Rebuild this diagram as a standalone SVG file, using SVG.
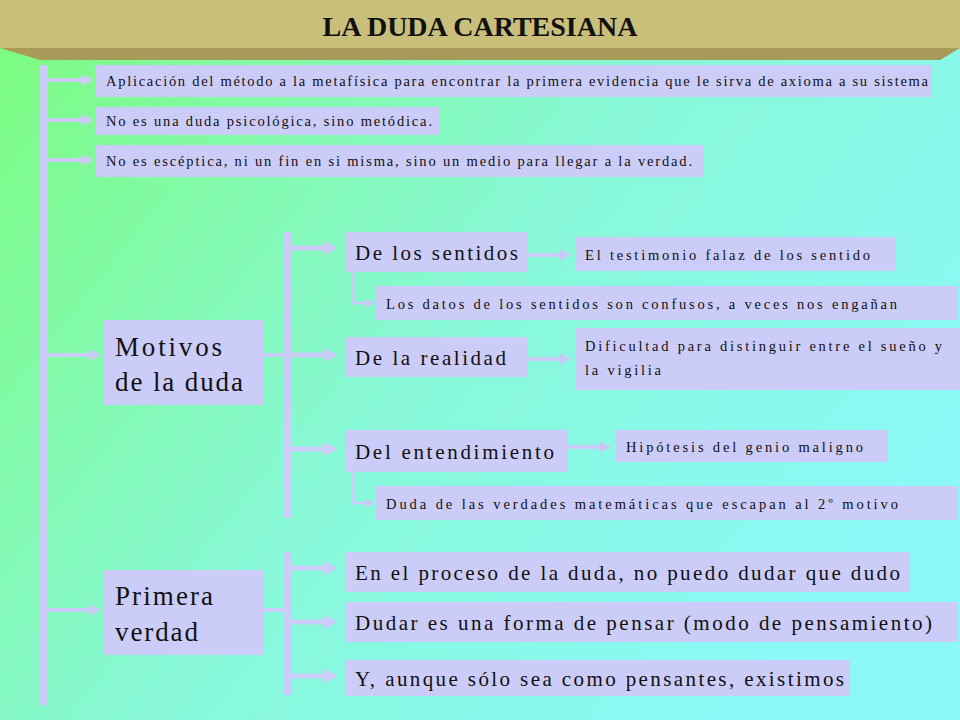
<svg xmlns="http://www.w3.org/2000/svg" width="960" height="720" viewBox="0 0 960 720">
<defs>
<linearGradient id="bg" x1="0" y1="0" x2="1" y2="0.6">
<stop offset="0" stop-color="#7cfc7c"/><stop offset="0.55" stop-color="#88f8d8"/><stop offset="1" stop-color="#8cf8f8"/>
</linearGradient>
<marker id="ah" viewBox="0 0 10 10" refX="9" refY="5" markerWidth="3" markerHeight="3.2" orient="auto" markerUnits="strokeWidth"><path d="M0,0L10,5L0,10z" fill="#ccccf8"/></marker>
<marker id="ahs" viewBox="0 0 10 10" refX="9" refY="5" markerWidth="3" markerHeight="3" orient="auto" markerUnits="strokeWidth"><path d="M0,0L10,5L0,10z" fill="#c8c8f4"/></marker>
</defs>
<style>
.box{fill:#ccccf8}
text{font-family:"Liberation Serif","DejaVu Serif","Times New Roman",serif;fill:#111}
.s{font-size:14.5px}.m{font-size:21px}.l{font-size:27px}
.ln{stroke:#ccccf8;fill:none}
</style>
<rect width="960" height="720" fill="url(#bg)"/>
<g id="title">
<polygon points="0,0 960,0 960,48 940,60 40,60 0,48" fill="#a89a58"/>
<rect x="0" y="0" width="960" height="48" fill="#c9bf7a"/>
<text x="480" y="36" text-anchor="middle" style="font-size:28px;font-weight:bold">LA DUDA CARTESIANA</text>
</g>
<g id="connectors">
<line class="ln" x1="44" y1="65" x2="44" y2="705" stroke-width="8"/>
<line class="ln" x1="48" y1="80" x2="92" y2="80" stroke-width="4" marker-end="url(#ah)"/>
<line class="ln" x1="48" y1="120" x2="92" y2="120" stroke-width="4" marker-end="url(#ah)"/>
<line class="ln" x1="48" y1="160" x2="92" y2="160" stroke-width="4" marker-end="url(#ah)"/>
<line class="ln" x1="48" y1="355" x2="100" y2="355" stroke-width="4" marker-end="url(#ah)"/>
<line class="ln" x1="48" y1="610" x2="100" y2="610" stroke-width="4" marker-end="url(#ah)"/>
<line class="ln" x1="288" y1="232" x2="288" y2="518" stroke-width="8"/>
<line class="ln" x1="264" y1="355" x2="288" y2="355" stroke-width="4"/>
<line class="ln" x1="292" y1="248" x2="336" y2="248" stroke-width="5" marker-end="url(#ah)"/>
<line class="ln" x1="292" y1="355" x2="336" y2="355" stroke-width="5" marker-end="url(#ah)"/>
<line class="ln" x1="292" y1="449" x2="336" y2="449" stroke-width="5" marker-end="url(#ah)"/>
<line class="ln" x1="288" y1="552" x2="288" y2="695" stroke-width="8"/>
<line class="ln" x1="264" y1="610" x2="288" y2="610" stroke-width="4"/>
<line class="ln" x1="292" y1="568" x2="336" y2="568" stroke-width="5" marker-end="url(#ah)"/>
<line class="ln" x1="292" y1="622" x2="336" y2="622" stroke-width="5" marker-end="url(#ah)"/>
<line class="ln" x1="292" y1="676" x2="336" y2="676" stroke-width="5" marker-end="url(#ah)"/>
<line class="ln" x1="528" y1="255" x2="570" y2="255" stroke-width="4" marker-end="url(#ahs)"/>
<line class="ln" x1="528" y1="359" x2="570" y2="359" stroke-width="4" marker-end="url(#ahs)"/>
<line class="ln" x1="568" y1="447" x2="610" y2="447" stroke-width="4" marker-end="url(#ahs)"/>
<polyline class="ln" points="353,272 353,303 374,303" stroke-width="3" marker-end="url(#ahs)"/>
<polyline class="ln" points="353,472 353,503 374,503" stroke-width="3" marker-end="url(#ahs)"/>
</g>
<g id="n1"><rect class="box" x="96" y="65" width="836" height="32"/><text class="s" x="106" y="86" textLength="822" lengthAdjust="spacing">Aplicación del método a la metafísica para encontrar la primera evidencia que le sirva de axioma a su sistema</text></g>
<g id="n2"><rect class="box" x="96" y="107" width="343" height="28"/><text class="s" x="106" y="126" textLength="326" lengthAdjust="spacing">No es una duda psicológica, sino metódica.</text></g>
<g id="n3"><rect class="box" x="96" y="145" width="608" height="32"/><text class="s" x="106" y="166" textLength="586" lengthAdjust="spacing">No es escéptica, ni un fin en si misma, sino un medio para llegar a la verdad.</text></g>
<g id="motivos"><rect class="box" x="104" y="320" width="160" height="85"/><text class="l" x="115" y="356" textLength="107" lengthAdjust="spacing">Motivos</text><text class="l" x="115" y="391" textLength="128" lengthAdjust="spacing">de la duda</text></g>
<g id="primera"><rect class="box" x="104" y="570" width="160" height="85"/><text class="l" x="115" y="605" textLength="98" lengthAdjust="spacing">Primera</text><text class="l" x="115" y="641" textLength="83" lengthAdjust="spacing">verdad</text></g>
<g id="sentidos"><rect class="box" x="345" y="232" width="183" height="40"/><text class="m" x="355" y="260" textLength="163" lengthAdjust="spacing">De los sentidos</text></g>
<g id="testimonio"><rect class="box" x="576" y="237" width="320" height="34"/><text class="s" x="585" y="260" textLength="285" lengthAdjust="spacing">El testimonio falaz de los sentido</text></g>
<g id="datos"><rect class="box" x="376" y="286" width="582" height="34"/><text class="s" x="386" y="309" textLength="511" lengthAdjust="spacing">Los datos de los sentidos son confusos, a veces nos engañan</text></g>
<g id="realidad"><rect class="box" x="345" y="337" width="183" height="40"/><text class="m" x="355" y="365" textLength="151" lengthAdjust="spacing">De la realidad</text></g>
<g id="dificultad"><rect class="box" x="576" y="328" width="384" height="62"/><text class="s" x="585" y="351" textLength="357" lengthAdjust="spacing">Dificultad para distinguir entre el sueño y</text><text class="s" x="585" y="375" textLength="76" lengthAdjust="spacing">la vigilia</text></g>
<g id="entendimiento"><rect class="box" x="345" y="430" width="223" height="42"/><text class="m" x="355" y="459" textLength="199" lengthAdjust="spacing">Del entendimiento</text></g>
<g id="hipotesis"><rect class="box" x="616" y="430" width="272" height="32"/><text class="s" x="626" y="452" textLength="237" lengthAdjust="spacing">Hipótesis del genio maligno</text></g>
<g id="matematicas"><rect class="box" x="376" y="486" width="582" height="34"/><text class="s" x="386" y="509" textLength="512" lengthAdjust="spacing">Duda de las verdades matemáticas  que escapan al 2º motivo</text></g>
<g id="proceso"><rect class="box" x="345" y="552" width="565" height="40"/><text class="m" x="355" y="580" textLength="545" lengthAdjust="spacing">En el proceso de la duda, no puedo dudar que dudo</text></g>
<g id="dudar"><rect class="box" x="345" y="602" width="613" height="40"/><text class="m" x="355" y="630" textLength="577" lengthAdjust="spacing">Dudar es una forma de pensar (modo de pensamiento)</text></g>
<g id="existimos"><rect class="box" x="345" y="660" width="505" height="36"/><text class="m" x="355" y="686" textLength="489" lengthAdjust="spacing">Y, aunque sólo sea como pensantes, existimos</text></g>
</svg>
